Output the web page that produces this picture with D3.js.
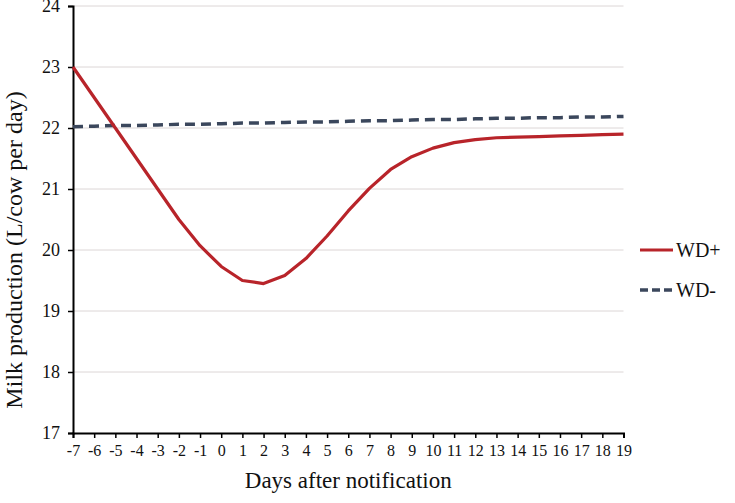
<!DOCTYPE html>
<html lang="en">
<head>
  <meta charset="utf-8">
  <title>Milk production</title>
  <script src="https://d3js.org/d3.v7.min.js"></script>
  <style type="text/css">
    body { margin: 0; background: #fff; }
    text { font-family: "Liberation Serif", "Times New Roman", serif; fill: #111; }
  </style>
</head>
<body>
  <div id="chart"></div>
  <script type="text/javascript">
    const days = [-7, -6, -5, -4, -3, -2, -1, 0, 1, 2, 3, 4, 5, 6, 7, 8, 9, 10, 11, 12, 13, 14, 15, 16, 17, 18, 19];
    const wdPlus = [23.0, 22.5, 22.0, 21.5, 21.0, 20.5, 20.07, 19.73, 19.5, 19.45, 19.58, 19.86, 20.23, 20.64, 21.01, 21.32, 21.53, 21.67, 21.76, 21.81, 21.84, 21.85, 21.86, 21.87, 21.88, 21.89, 21.9];
    const wdMinus = [22.02, 22.03, 22.04, 22.04, 22.05, 22.06, 22.06, 22.07, 22.08, 22.08, 22.09, 22.1, 22.1, 22.11, 22.12, 22.12, 22.13, 22.14, 22.14, 22.15, 22.16, 22.16, 22.17, 22.17, 22.18, 22.18, 22.19];
    const yTicks = [17, 18, 19, 20, 21, 22, 23, 24];
    const seriesNames = ["WD+", "WD-"];

    const w = 735;
    const h = 503;
    const mLeft = 73, mRight = 623.5, mTop = 6, mBottom = 433;

    const x = d3.scaleLinear().domain([-7, 19]).range([mLeft, mRight]);
    const y = d3.scaleLinear().domain([17, 24]).range([mBottom, mTop]);

    const svg = d3.select("#chart")
        .append("svg")
        .attr("width", w)
        .attr("height", h);

    // gridlines
    svg.append("g")
        .selectAll("line")
        .data(yTicks.slice(1))
        .enter()
        .append("line")
        .attr("x1", mLeft)
        .attr("x2", mRight)
        .attr("y1", d => y(d))
        .attr("y2", d => y(d))
        .style("stroke", "#dcd6d6")
        .style("stroke-width", 1);

    const leftAxis = d3.axisLeft(y).tickValues(yTicks).tickSize(5).tickPadding(8).tickFormat(d => String(d));
    const gy = svg.append("g")
        .attr("transform", "translate(" + mLeft + ",0)")
        .call(leftAxis);

    const bottomAxis = d3.axisBottom(x).tickValues(days).tickSize(5).tickPadding(7).tickFormat(d => String(d));
    const gx = svg.append("g")
        .attr("transform", "translate(0," + mBottom + ")")
        .call(bottomAxis);

    [gy, gx].forEach(g => {
      g.select(".domain").style("stroke", "#000").style("stroke-width", 2);
      g.selectAll(".tick line").style("stroke", "#000").style("stroke-width", 1.5);
      g.selectAll("text").style("font-family", "Liberation Serif, serif").style("fill", "#111");
    });
    gy.selectAll("text").style("font-size", "18px");
    gx.selectAll("text").style("font-size", "16px");

    const line = d3.line()
        .x((d, i) => x(days[i]))
        .y(d => y(d));

    svg.append("path")
        .datum(wdMinus)
        .attr("d", line)
        .style("fill", "none")
        .style("stroke", "#3b475c")
        .style("stroke-width", 3.5)
        .style("stroke-dasharray", "10,6");

    svg.append("path")
        .datum(wdPlus)
        .attr("d", line)
        .style("fill", "none")
        .style("stroke", "#b8242a")
        .style("stroke-width", 3.2)
        .style("stroke-linejoin", "round");

    // axis titles
    svg.append("text")
        .attr("x", (mLeft + mRight) / 2)
        .attr("y", 488)
        .style("text-anchor", "middle")
        .style("font-size", "23px")
        .text("Days after notification");

    svg.append("text")
        .attr("transform", "rotate(-90)")
        .attr("x", -250)
        .attr("y", 22)
        .style("text-anchor", "middle")
        .style("font-size", "24px")
        .text("Milk production (L/cow per day)");

    // legend
    const legend = svg.selectAll(".legend")
        .data(seriesNames)
        .enter().append("g")
        .attr("class", "legend")
        .attr("transform", (d, i) => `translate(640,${250 + i * 40})`);

    legend.append("line")
        .attr("x1", 0)
        .attr("x2", 33)
        .style("stroke", (d, i) => i === 0 ? "#b8242a" : "#3b475c")
        .style("stroke-width", (d, i) => i === 0 ? 3.2 : 3.5)
        .style("stroke-dasharray", (d, i) => i === 0 ? null : "8,4");

    legend.append("text")
        .attr("x", 36)
        .attr("dy", "0.35em")
        .style("font-size", "20px")
        .text(d => d);
  </script>
</body>
</html>
